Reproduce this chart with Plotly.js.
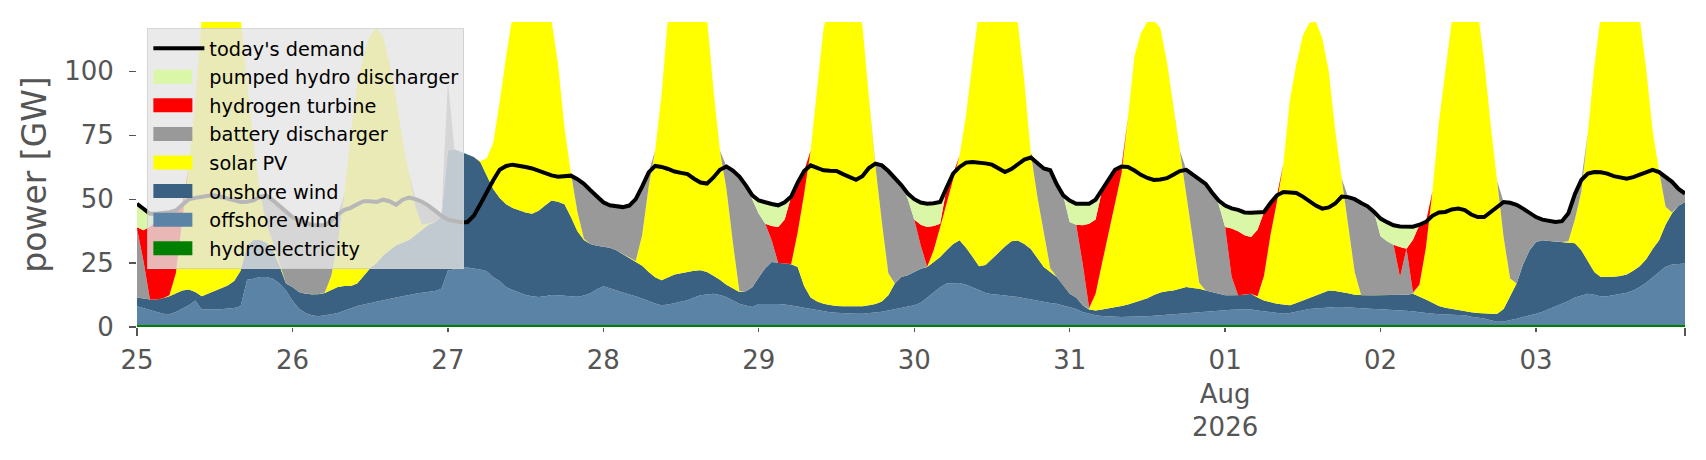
<!DOCTYPE html>
<html>
<head>
<meta charset="utf-8">
<script src="https://cdn.plot.ly/plotly-3.0.1.min.js"></script>
<style>
  html, body { margin: 0; padding: 0; background: #fff; }
  #chart { width: 1706px; height: 460px; }
</style>
</head>
<body>
<div id="chart"></div>
<script>
// hourly dispatch, 25 Jul 2026 00:00 .. 3 Aug 2026 23:00, GW (one row per day)
const hydroelectricity = [
  0.8,0.8,0.8,0.8,0.8,0.8,0.8,0.8,0.8,0.8,0.8,0.8,0.8,0.8,0.8,0.8,0.8,0.8,0.8,0.8,0.8,0.8,0.8,0.8,
  0.8,0.8,0.8,0.8,0.8,0.8,0.8,0.8,0.8,0.8,0.8,0.8,0.8,0.8,0.8,0.8,0.8,0.8,0.8,0.8,0.8,0.8,0.8,0.8,
  0.8,0.8,0.8,0.8,0.8,0.8,0.8,0.8,0.8,0.8,0.8,0.8,0.8,0.8,0.8,0.8,0.8,0.8,0.8,0.8,0.8,0.8,0.8,0.8,
  0.8,0.8,0.8,0.8,0.8,0.8,0.8,0.8,0.8,0.8,0.8,0.8,0.8,0.8,0.8,0.8,0.8,0.8,0.8,0.8,0.8,0.8,0.8,0.8,
  0.8,0.8,0.8,0.8,0.8,0.8,0.8,0.8,0.8,0.8,0.8,0.8,0.8,0.8,0.8,0.8,0.8,0.8,0.8,0.8,0.8,0.8,0.8,0.8,
  0.8,0.8,0.8,0.8,0.8,0.8,0.8,0.8,0.8,0.8,0.8,0.8,0.8,0.8,0.8,0.8,0.8,0.8,0.8,0.8,0.8,0.8,0.8,0.8,
  0.8,0.8,0.8,0.8,0.8,0.8,0.8,0.8,0.8,0.8,0.8,0.8,0.8,0.8,0.8,0.8,0.8,0.8,0.8,0.8,0.8,0.8,0.8,0.8,
  0.8,0.8,0.8,0.8,0.8,0.8,0.8,0.8,0.8,0.8,0.8,0.8,0.8,0.8,0.8,0.8,0.8,0.8,0.8,0.8,0.8,0.8,0.8,0.8,
  0.8,0.8,0.8,0.8,0.8,0.8,0.8,0.8,0.8,0.8,0.8,0.8,0.8,0.8,0.8,0.8,0.8,0.8,0.8,0.8,0.8,0.8,0.8,0.8,
  0.8,0.8,0.8,0.8,0.8,0.8,0.8,0.8,0.8,0.8,0.8,0.8,0.8,0.8,0.8,0.8,0.8,0.8,0.8,0.8,0.8,0.8,0.8,0.8
];
const offshoreWind = [
  7.3,6.6,6.0,5.1,4.4,4.2,5.1,6.4,7.7,9.6,6.0,6.1,6.1,6.1,6.4,6.6,7.3,17.7,18.1,18.8,18.8,18.1,16.2,13.5,
  9.6,6.4,4.7,3.8,3.4,3.7,4.2,4.7,5.7,6.7,7.4,8.0,8.6,9.2,9.7,10.2,10.7,11.2,11.8,12.2,12.6,13.0,13.3,14.2,
  21.2,21.8,22.4,22.5,22.2,21.7,21.0,18.7,17.2,14.7,13.7,12.7,11.7,11.2,10.9,11.2,11.7,11.6,11.4,11.2,11.0,11.5,12.4,14.0,
  15.1,14.4,13.5,12.6,11.9,11.2,10.4,9.4,8.4,7.7,8.0,8.5,9.0,9.7,10.7,11.6,11.9,12.2,11.7,10.9,9.6,8.3,7.6,7.0,
  8.2,8.3,8.3,8.2,8.0,7.7,7.2,6.7,6.2,5.7,5.2,5.0,4.8,4.6,4.5,4.4,4.4,4.6,4.9,5.2,5.7,6.2,6.7,7.2,
  7.7,8.7,10.7,12.9,14.7,16.2,16.4,16.4,15.7,14.8,13.7,12.5,12.0,11.8,11.6,11.2,10.9,10.4,9.9,9.4,9.0,8.6,8.3,7.6,
  7.0,6.2,5.1,4.4,3.8,3.5,3.3,3.1,3.1,3.2,3.2,3.3,3.4,3.6,3.8,4.0,4.2,4.5,4.7,4.9,5.1,5.3,5.5,5.7,
  5.8,5.9,6.0,6.0,6.0,5.7,5.4,5.0,4.7,4.4,4.7,5.2,5.7,6.2,6.4,6.7,6.9,7.0,7.0,6.8,6.6,6.4,6.3,6.2,
  6.1,6.0,5.9,5.8,5.7,5.4,5.0,4.7,4.4,4.2,4.1,4.0,3.9,3.8,3.2,2.8,2.5,1.8,1.3,1.4,1.8,2.4,3.1,3.7,
  4.4,5.2,6.2,7.2,8.2,9.4,10.7,11.6,12.2,11.8,11.1,11.2,11.6,12.0,12.6,13.5,14.8,16.5,18.7,20.7,22.8,23.6,23.9,24.0
];
const onshoreWind = [
  3.4,3.7,4.0,4.9,6.0,7.0,7.4,7.1,6.2,3.3,5.2,6.1,7.2,8.1,9.0,10.6,13.9,13.5,15.1,14.4,13.4,11.1,7.0,2.7,
  5.2,6.5,7.5,8.2,8.6,8.8,9.5,10.1,9.5,8.5,8.8,11.2,13.6,15.0,17.5,19.0,20.5,21.0,21.4,23.0,24.6,26.2,26.9,28.0,
  47.0,46.9,45.3,44.2,43.5,42.0,37.2,34.5,32.5,32.5,32.0,32.0,32.3,32.3,33.8,35.5,37.0,36.6,35.8,31.0,25.7,21.7,19.3,17.0,
  15.4,15.8,15.7,15.1,14.3,13.5,12.8,11.3,10.3,9.8,10.7,11.2,11.2,11.0,10.5,9.8,8.8,7.0,6.0,4.8,4.6,4.6,5.6,7.7,
  10.5,13.9,16.3,16.0,16.0,16.0,15.5,8.5,4.5,3.5,3.1,2.8,2.6,2.7,2.8,2.9,2.9,3.1,3.3,4.0,5.9,10.0,12.1,12.2,
  13.0,13.3,12.0,11.8,11.9,13.0,15.3,16.7,14.5,11.9,9.3,11.0,13.7,16.4,19.1,21.5,22.1,21.3,19.8,16.8,13.7,12.1,10.5,8.1,
  5.2,4.5,2.6,1.6,1.9,2.5,3.1,3.7,4.3,4.8,5.5,6.1,7.0,8.1,8.9,9.2,9.3,9.7,10.1,9.6,9.1,8.2,7.4,6.5,
  5.8,5.7,5.6,5.8,6.2,5.0,4.2,3.8,3.6,3.6,3.0,3.4,3.9,4.4,5.2,5.8,6.6,6.3,5.9,5.6,5.2,5.2,5.3,5.4,
  5.5,5.6,5.7,5.9,6.1,6.8,6.2,5.3,4.3,3.2,2.6,2.2,1.9,1.6,1.8,1.9,2.0,2.6,3.1,4.8,9.4,13.8,20.6,25.5,
  28.0,27.9,26.6,25.4,24.2,22.8,21.3,17.6,12.5,8.9,7.7,7.6,7.3,7.1,7.1,7.7,8.2,9.2,11.0,12.4,16.4,20.1,22.7,24.1
];
const solarPV = [
  0,0,0,0,0,0.4,7.7,27.7,48.3,74.3,109,117,119.9,120,116.8,110,99,64,38,18,7,3,1,0,
  0,0,0,0,0,0.2,5.5,17.4,36,59,78,87,91,92,85.5,73,58,40,26,11,2,0.5,0,0,
  0,0,0,0,0,0.3,7,18,37.5,58,75.5,84.5,89.2,90.7,87.5,80.5,70.5,54,30,17,7.5,0.5,0,0,
  0,0,0,0,0,0.3,12,33.5,49.5,72.7,102.5,109.5,114,114.5,112,106.8,99.5,73,50.5,37.5,18,0.3,0,0,
  0,0,0,0,0,0.1,13.5,36,57.5,83,107.9,118.4,123.8,124.9,122.9,117.9,109.9,81.5,54,31,8.6,0,0,0,
  0,0,0.1,4.5,11.6,18,24.5,33.1,52,77.5,100.2,107.7,109.5,107,100.5,91.5,85.2,63.5,37.5,24,13.5,1.5,0,0,
  0,0,0,0.2,6.5,18.2,29.8,41.4,51.8,73.2,96.5,104.8,108.3,107.5,103.5,90,71.7,54,36.2,19.2,2.3,0,0,0,
  0,0,0,0,0,0.5,9.6,26.4,39.9,55.2,80.5,93.6,103.6,107.6,107.1,99.7,85.7,62.9,44.3,27.3,8.9,0,0,0,
  0,0,0,0,0,0.1,4.5,20.2,43.5,71.8,93.5,113,123.4,127.8,126.2,118.5,98.7,73.8,51.8,28,7,0,0,0,
  0,0,0,0,0,0.5,9.2,23,50.5,80.5,102.4,110.4,114.3,115.1,112.5,106,97.2,74.5,46.5,27.1,7,0.3,0,0
];
const batteryDischarger = [
  27,14.7,0,0,0,0,0,0,0,0,0,0,0,0,0,0,0,0,0,0,11.3,16.5,22.3,28,
  27.4,28.1,27.8,27.1,27,26.3,21.5,11,0,0,0,0,0,0,0,0,0,0,0,3,9,7,4.5,0.5,
  27,0,0,0,0,0,0,0,0,0,0,0,0,0,0,0,0,0,0,0,12.8,21.5,21,19.2,
  17.5,16.6,17.1,18.4,20.5,24.2,19,5.5,0,0,0,0,0,0,0,0,0,0,0,8.8,28.2,44.8,41.4,34,
  24.8,17.4,8.4,0,0,0,0,0,0,0,0,0,0,0,0,0,0,0,0.9,22.2,40,41.5,35.9,30,
  20.5,9.1,0,0,0,0,0,0,0,0,0,0,0,0,0,0,0,0,0,13,25,38.3,36.2,35,
  28.1,28.5,16.3,0.5,0,0,0,0,0,0,0,0,0,0,0,0,0,0,9.7,25.2,40.7,41.7,38.8,35,
  26.7,7.3,0,0,0,0,0,0,0,0,0,0,0,0,0,0,0,0,0,10.3,28.5,36.1,34.8,32.6,
  23.1,21.1,19.8,7.1,18,0.5,0,0,0,0,0,0,0,0,0,0,0,0,0,13.9,29.6,30.8,21.8,14.5,
  9.8,8.1,7.8,7.7,8.2,11,10,4.5,0,0,0,0,0,0,0,0,0,0,0,0,11.7,12,6.6,3.3
];
const hydrogenTurbine = [
  0.5,12,28.5,30.5,31.3,31.5,24.6,6,0,0,0,0,0,0,0,0,0,0,0,0,0,0,0,0,
  0,0,0,0,0,0,0,0,0,0,0,0,0,0,0,0,0,0,0,0,0,0,0,0,
  0,0,0,0,0,0,0,0,0,0,0,0,0,0,0,0,0,0,0,0,0,0,0,0,
  0,0,0,0,0,0,0,0,0,0,0,0,0,0,0,0,0,0,0,0,0,0,0,0,
  0,0,5.7,14.1,17.2,26.4,19.5,9,0,0,0,0,0,0,0,0,0,0,0,0,0,0,0,0,
  0,8.1,15.5,9.5,1.4,6.5,3,0,0,0,0,0,0,0,0,0,0,0,0,0,0,0,0,0,
  0,0,15,32.9,29,28.5,20.8,12.5,2.8,0,0,0,0,0,0,0,0,0,0,0,0,0,0,0,
  0,18.8,25.1,23.3,22.2,26,25,12.5,2.5,0,0,0,0,0,0,0,0,0,0,0,0,0,0,0,
  0,0,0,11.7,0,20.5,23.5,10.1,0,0,0,0,0,0,0,0,0,0,0,0,0,0,0,0,
  0,0,0,0,0,0,0,0,0,0,0,0,0,0,0,0,0,0,0,0,0,0,0,0
];
const pumpedHydroDischarger = [
  9.2,8.2,5,3,2,1,0,0,0,0,0,0,0,0,0,0,0,0,0,0,0,0,0,0,
  0,0,0,0,0,0,0,0,0,0,0,0,0,0,0,0,0,0,0,0,0,0,0,0,
  0,0,0,0,0,0,0,0,0,0,0,0,0,0,0,0,0,0,0,0,0,0,0,0,
  0,0,0,0,0,0,0,0,0,0,0,0,0,0,0,0,0,0,0,0,0,0,0,2,
  5.2,8.2,8.6,8.5,6.8,0,0,0,0,0,0,0,0,0,0,0,0,0,0,0,0,0,0,2,
  8,8.7,9.1,8.9,8.5,0,0,0,0,0,0,0,0,0,0,0,0,0,0,0,0,0,0,0,
  8.4,8.2,8.4,7.8,7.8,0,0,0,0,0,0,0,0,0,0,0,0,0,0,0,0,0,0,1.5,
  8.4,7.9,8.3,8.9,9.5,6.7,0,0,0,0,0,0,0,0,0,0,0,0,0,0,0,0,0,0,
  6.9,7.5,7.6,8,8.5,5.1,0,0,0,0,0,0,0,0,0,0,0,0,0,0,0,0,0,0,
  0,0,0,0,0,0,0,0,0,0,0,0,0,0,0,0,0,0,0,0,0,0,0,0
];
const todaysDemand = [
  48.2,46,44.3,44.3,44.5,44.9,45.6,48,50,50.5,51,51.3,51.5,50.8,50,49.5,48.9,49,49.5,51,51.3,49.5,47.3,45,
  43,41.8,40.8,39.9,39.8,39.8,41.5,44,45.8,46.6,48,49.2,49.2,48.9,49.8,49.2,47.8,49.8,50.6,50,49,47.5,45.5,43.5,
  42,41.3,41,41,43.5,48,53,57.4,61.5,63,63.5,63.2,62.6,62,61,60.4,59.3,58.8,59.1,59.2,57.8,56,53.5,51,
  48.8,47.6,47.1,46.9,47.5,50,55,60.5,63,62.6,61.8,60.8,60.3,59.8,58,56.5,56.1,58.5,61.5,62.8,61.2,58.8,55.4,51.5,
  49.5,48.6,48.1,47.6,48.8,51,56.5,61,63.2,62.2,61.3,61.1,61,59.8,58.6,57.6,59,62.2,63.9,63.2,61,58.5,55.5,52.2,
  50,48.7,48.2,48.4,48.9,54.5,60,62.6,64.3,64.5,64.4,64,63.5,62,60.6,61.8,63.5,65.5,66.3,64,62,61.3,55.8,51.5,
  49.5,48.2,48.2,48.2,49.8,53.5,57.8,61.5,62.8,62.6,61.2,59.5,58.3,57.5,57.7,58.2,59.6,61,61.5,59.7,58,56,52.5,49.5,
  47.5,46.4,45.8,44.8,44.7,44.7,45,48.5,51.5,52.8,52.6,52.4,51,49.3,47.5,46.3,46.8,48.3,51,50.8,50,48.5,47.2,45,
  42.4,41,39.8,39.3,39.1,39.2,40,41.1,43.5,44.8,45,46,46.3,45.7,44,43,43,45,47,48.9,48.6,47.8,46.3,44.5,
  43,42,41.4,41.1,41.4,44.5,52,57.5,60,60.6,60.5,60,59,58.3,58,58.6,59.5,60.8,61.5,60.6,58.7,56.8,54,52.2
];

const dayTicks = ['2026-07-25','2026-07-26','2026-07-27','2026-07-28','2026-07-29',
                  '2026-07-30','2026-07-31','2026-08-01','2026-08-02','2026-08-03'];
const dayLabels = ['25','26','27','28','29','30','31','01<br>Aug<br>2026','02','03'];

// hourly timestamps for the series above
const t0 = Date.UTC(2026, 6, 25, 0, 0);
const time = todaysDemand.map((_, i) =>
  new Date(t0 + i * 3600000).toISOString().slice(0, 16).replace('T', ' '));

function area(name, y, color, rank) {
  return {
    x: time, y: y, name: name, type: 'scatter', mode: 'lines',
    stackgroup: 'one', legendgroup: name, legendrank: rank,
    line: {width: 0, color: color}, fillcolor: color,
    hoverinfo: 'skip'
  };
}

const traces = [
  area('hydroelectricity', hydroelectricity, '#008000', 8),
  area('offshore wind', offshoreWind, '#5b83a6', 7),
  area('onshore wind', onshoreWind, '#3b6182', 6),
  area('solar PV', solarPV, '#ffff00', 5),
  area('battery discharger', batteryDischarger, '#999999', 4),
  area('hydrogen turbine', hydrogenTurbine, '#ff0000', 3),
  area('pumped hydro discharger', pumpedHydroDischarger, '#daf7a7', 2),
  {
    x: time, y: todaysDemand, name: "today's demand", type: 'scatter', mode: 'lines',
    legendgroup: 'demand', legendrank: 1,
    line: {color: '#000000', width: 4}, hoverinfo: 'skip'
  }
];

const tickFont = {family: 'DejaVu Sans', size: 26, color: '#555555'};

const layout = {
  width: 1706,
  height: 460,
  margin: {l: 137, r: 21, t: 22, b: 133},
  paper_bgcolor: '#ffffff',
  plot_bgcolor: '#ffffff',
  font: {family: 'DejaVu Sans', color: '#555555'},
  showlegend: true,
  legend: {
    x: 0.0067, y: 0.98, xanchor: 'left', yanchor: 'top',
    bgcolor: 'rgba(229,229,229,0.8)',
    bordercolor: 'rgba(204,204,204,0.8)', borderwidth: 1,
    font: {family: 'DejaVu Sans', size: 19.3, color: '#000000'},
    traceorder: 'grouped', tracegroupgap: 0.5,
    itemwidth: 51
  },
  xaxis: {
    type: 'date',
    range: [time[0], time[time.length - 1]],
    tickmode: 'array', tickvals: dayTicks, ticktext: dayLabels,
    ticks: 'outside', ticklen: 3.5, tickwidth: 1.3, tickcolor: '#555555',
    ticklabelstandoff: 6,
    tickfont: tickFont,
    minor: {
      tickmode: 'array', tickvals: [time[0], time[time.length - 1]],
      ticks: 'outside', ticklen: 8, tickwidth: 1.3, tickcolor: '#555555', showgrid: false
    },
    showgrid: false, zeroline: false, showline: false
  },
  yaxis: {
    range: [0, 119.3],
    tickmode: 'array', tickvals: [0, 25, 50, 75, 100],
    ticks: 'outside', ticklen: 7, tickwidth: 1.3, tickcolor: '#555555',
    ticklabelstandoff: 10,
    tickfont: tickFont,
    showgrid: false, zeroline: false, showline: false,
    title: {text: 'power [GW]', font: {family: 'DejaVu Sans', size: 33, color: '#555555'}, standoff: 7}
  }
};

Plotly.newPlot('chart', traces, layout, {staticPlot: true, displayModeBar: false}).then(gd => {
  // taller fill swatches in the legend
  gd.querySelectorAll('.legend .legendfill path').forEach(p => {
    p.setAttribute('d', 'M5,-7h39v14h-39z');
  });
});
</script>
</body>
</html>
